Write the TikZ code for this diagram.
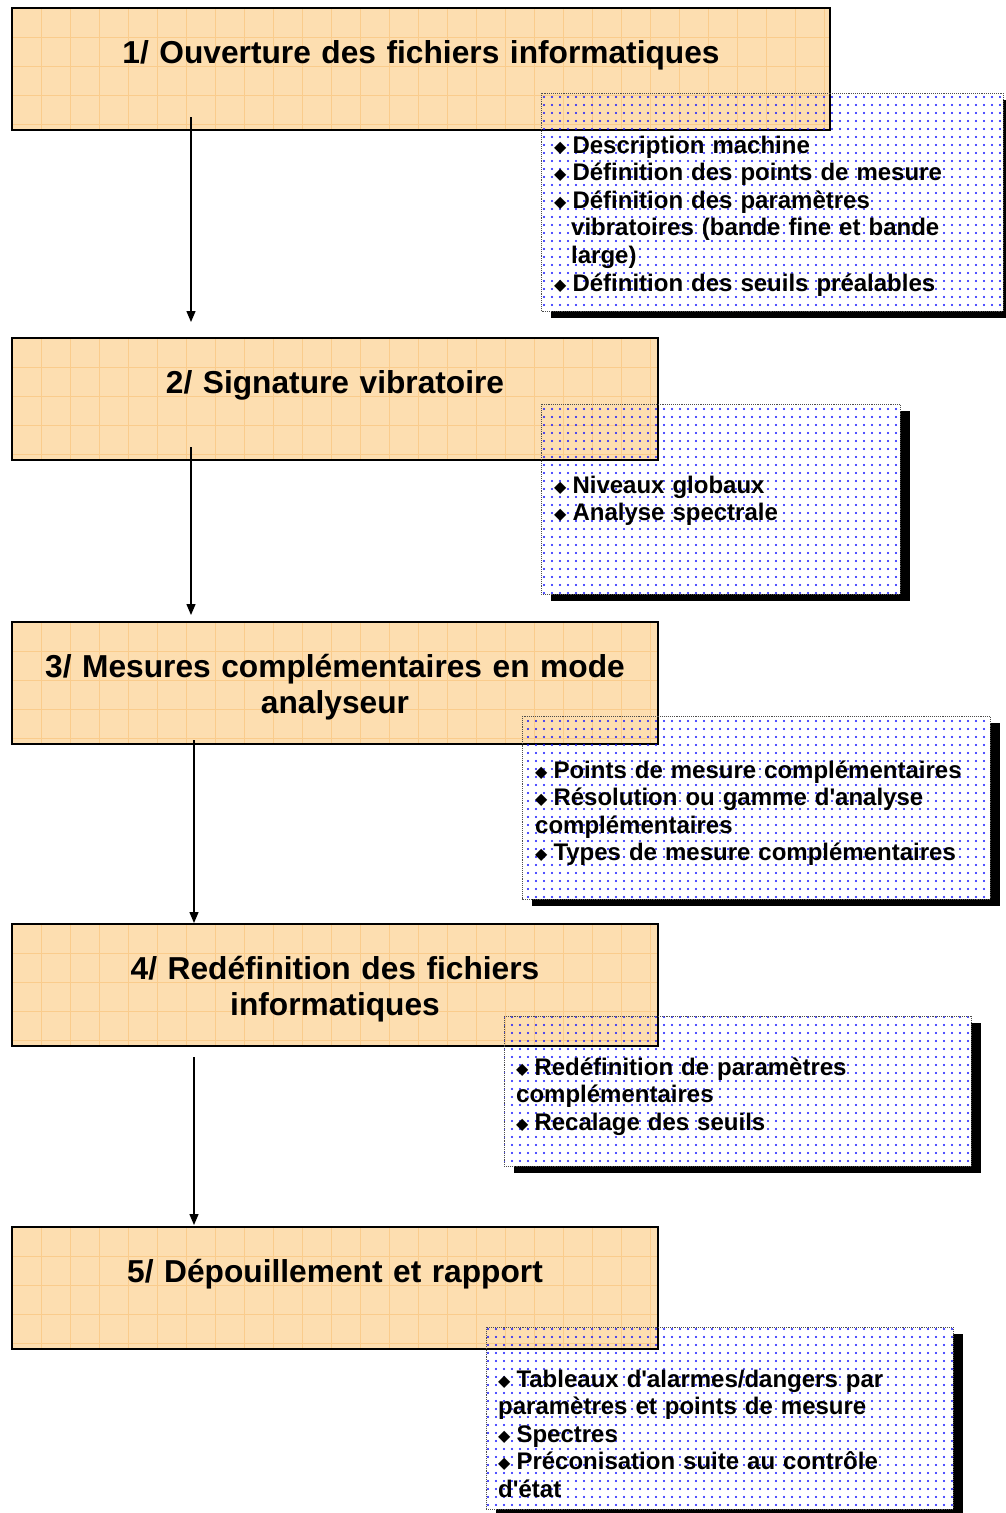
\documentclass[tikz,border=0pt]{standalone}
\usepackage{fontspec}
\setmainfont{Liberation Sans}
\newfontfamily\arial{Liberation Sans}
\newfontfamily\dejavu{DejaVu Sans}
\usetikzlibrary{patterns.meta,arrows.meta}
\definecolor{peach}{RGB}{253,222,176}
\definecolor{gridor}{RGB}{250,204,140}
\definecolor{dotblue}{RGB}{20,20,255}
\newcommand{\bul}{{\dejavu\fontsize{16}{16}\selectfont\raisebox{1pt}{◆}}\hspace{6pt}}
\begin{document}
\begin{tikzpicture}[x=1pt,y=-1pt,
  obox/.style={draw=black, line width=1.8pt, fill=peach, inner sep=0pt, outer sep=0pt, anchor=north west,
    path picture={
      \foreach \i in {1,...,29}{\draw[gridor, line width=1pt] ([xshift=\i*29pt]path picture bounding box.north west) -- ([xshift=\i*29pt]path picture bounding box.south west);}
      \foreach \j in {1,...,4}{\draw[gridor, line width=1pt] ([yshift=-\j*29pt]path picture bounding box.north west) -- ([yshift=-\j*29pt]path picture bounding box.north east);}
    }},
  bshape/.style={inner sep=0pt, outer sep=0pt, anchor=north west},
  blook/.style={draw=black!70, densely dotted, line width=0.9pt, pattern={Dots[distance=8pt,radius=1.1pt]}, pattern color=dotblue},
  arr/.style={line width=1.4pt, -{Triangle[length=11pt,width=9pt]}},
  title/.style={font=\arial\fontsize{31.7}{36}\selectfont\bfseries, align=center, anchor=base, inner sep=0pt, text width=#1},
  blist/.style={font=\arial\fontsize{24}{27.6}\selectfont\bfseries, align=left, anchor=base west, inner sep=0pt, text width=480pt},
]
\useasboundingbox (0,0) rectangle (1005,1513);

% blue box frames (invisible, used for shadow and overlay)
\node[bshape, minimum width=462pt, minimum height=218pt] (bb1) at (541,93) {};
\node[bshape, minimum width=359pt, minimum height=190pt] (bb2) at (541,404) {};
\node[bshape, minimum width=468pt, minimum height=183pt] (bb3) at (522,716) {};
\node[bshape, minimum width=467pt, minimum height=150pt] (bb4) at (504,1016) {};
\node[bshape, minimum width=467pt, minimum height=182pt] (bb5) at (486,1327) {};

% shadows and white backgrounds
\foreach \b in {bb1,bb2,bb3,bb4,bb5}{
  \fill[black] ([xshift=10pt,yshift=-7pt]\b.north west) rectangle ([xshift=10pt,yshift=-7pt]\b.south east);
  \fill[white] (\b.north west) rectangle (\b.south east);
}

% orange step boxes
\node[obox, minimum width=818pt, minimum height=122pt] (b1) at (12,8) {};
\node[obox, minimum width=646pt, minimum height=122pt] (b2) at (12,338) {};
\node[obox, minimum width=646pt, minimum height=122pt] (b3) at (12,622) {};
\node[obox, minimum width=646pt, minimum height=122pt] (b4) at (12,924) {};
\node[obox, minimum width=646pt, minimum height=122pt] (b5) at (12,1227) {};

% arrows
\coordinate (s1) at (191,117);  \coordinate (e1) at (191,322);
\coordinate (s2) at (191,447);  \coordinate (e2) at (191,615);
\coordinate (s3) at (194,740);  \coordinate (e3) at (194,923);
\coordinate (s4) at (194,1057); \coordinate (e4) at (194,1225);
\draw[arr] (s1) -- (e1);
\draw[arr] (s2) -- (e2);
\draw[arr] (s3) -- (e3);
\draw[arr] (s4) -- (e4);

% blue dotted overlays
\foreach \b in {bb1,bb2,bb3,bb4,bb5}{
  \draw[blook] (\b.north west) rectangle (\b.south east);
}

% titles
\node[title=800pt] (t1) at (421,63) {1/ Ouverture des fichiers informatiques};
\node[title=640pt] (t2) at (335,393) {2/ Signature vibratoire};
\node[title=640pt] (t3) at (335,677) {3/ Mesures complémentaires en mode\\analyseur};
\node[title=640pt] (t4) at (335,979) {4/ Redéfinition des fichiers\\informatiques};
\node[title=640pt] (t5) at (335,1282) {5/ Dépouillement et rapport};

% bullet lists
\node[blist] (l1) at (554,153) {\bul Description machine\\
\bul Définition des points de mesure\\
\bul Définition des paramètres\\
\hspace*{17pt}vibratoires (bande fine et bande\\
\hspace*{17pt}large)\\
\bul Définition des seuils préalables};
\node[blist] (l2) at (554,493) {\bul Niveaux globaux\\
\bul Analyse spectrale};
\node[blist] (l3) at (535,778) {\bul Points de mesure complémentaires\\
\bul Résolution ou gamme d'analyse\\
complémentaires\\
\bul Types de mesure complémentaires};
\node[blist] (l4) at (516,1075) {\bul Redéfinition de paramètres\\
complémentaires\\
\bul Recalage des seuils};
\node[blist] (l5) at (498,1387) {\bul Tableaux d'alarmes/dangers par\\
paramètres et points de mesure\\
\bul Spectres\\
\bul Préconisation suite au contrôle\\
d'état};
\end{tikzpicture}
\end{document}
